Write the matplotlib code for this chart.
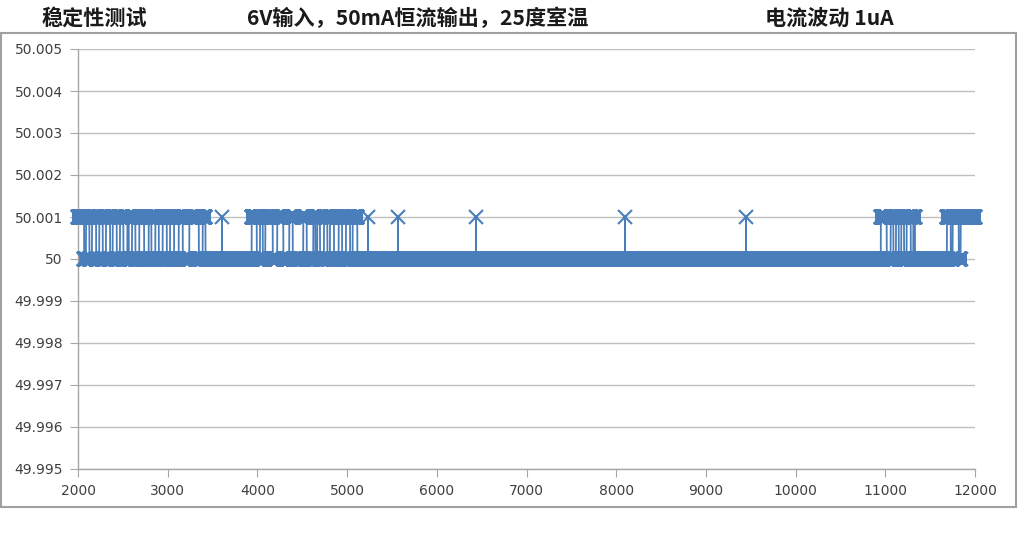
import numpy as np
import matplotlib
matplotlib.use("Agg")
from matplotlib import pyplot as plt
from matplotlib.patches import Rectangle

plt.rcParams['font.family'] = ['Noto Sans CJK SC', 'DejaVu Sans']

# readings: sample index 2000..12000, current in mA
x_start = 2000
x_end = 12000
base_value = 50.0
high_value = 50.001

# runs where the reading sits at 50.001
high_runs = [
    (2000, 2067), (2089, 2126), (2156, 2201), (2237, 2275), (2312, 2357),
    (2387, 2431), (2468, 2505), (2550, 2565), (2602, 2639), (2683, 2736),
    (2788, 2817), (2862, 2900), (2944, 2989), (3026, 3070), (3123, 3167),
    (3241, 3346), (3390, 3420),
    (3936, 3992), (4029, 4059), (4088, 4170), (4221, 4288), (4355, 4393),
    (4511, 4549), (4623, 4645), (4667, 4697), (4742, 4779), (4809, 4853),
    (4906, 4943), (4987, 5032), (5062, 5113),
    (10950, 11015), (11060, 11089), (11119, 11149), (11178, 11208),
    (11238, 11283), (11312, 11330),
    (11687, 11729), (11751, 11818), (11840, 12000),
]
# single-sample spikes
spikes = [3605, 5233, 5567, 6437, 8098, 9447]

titles = ["稳定性测试", "6V输入，50mA恒流输出，25度室温", "电流波动 1uA"]
title_x = [42, 247, 765]

y_ticks = [49.995, 49.996, 49.997, 49.998, 49.999, 50.0,
           50.001, 50.002, 50.003, 50.004, 50.005]
y_labels = ["49.995", "49.996", "49.997", "49.998", "49.999", "50",
            "50.001", "50.002", "50.003", "50.004", "50.005"]
x_ticks = list(range(2000, 12001, 1000))

samples = np.arange(x_start, x_end + 1)
current = np.full(samples.shape, base_value)
for a, b in high_runs:
    current[(samples >= a) & (samples <= b)] = high_value
is_spike = np.isin(samples, spikes)
current[is_spike] = high_value

W, H = 1024, 539
fig = plt.figure(figsize=(W / 100, H / 100), dpi=100)
ax = fig.add_axes([78 / W, 70 / H, 897 / W, 420 / H])

blue = '#4a7ebb'
# crowded markers merge into solid bands in the original
ax.plot(samples[~is_spike], current[~is_spike], ls='none', marker='s',
        ms=8.6, mew=0, color=blue, clip_on=False, zorder=2)
ax.plot(samples, current, color=blue, lw=1.3, marker='x', ms=10, mew=1.5,
        clip_on=False, zorder=3)

ax.set_xlim(x_start, x_end)
ax.set_ylim(49.995, 50.005)
ax.set_yticks(y_ticks)
ax.set_yticklabels(y_labels)
ax.set_xticks(x_ticks)
ax.set_xticklabels([str(t) for t in x_ticks])

ax.grid(axis='y', color='#bfbfbf', lw=1.0)
ax.set_axisbelow(True)
for side in ('top', 'right'):
    ax.spines[side].set_visible(False)
for side in ('left', 'bottom'):
    ax.spines[side].set_color('#a6a6a6')
    ax.spines[side].set_linewidth(1.0)
ax.tick_params(axis='both', colors='#a6a6a6', labelcolor='#404040',
               labelsize=10, length=6, direction='out')
ax.tick_params(axis='x', pad=5)
ax.tick_params(axis='y', pad=5)
for lbl in ax.get_xticklabels() + ax.get_yticklabels():
    lbl.set_family(['DejaVu Sans'])

# outer chart frame
fig.patches.append(Rectangle((1 / W, 32 / H), 1015 / W, 474 / H,
                             transform=fig.transFigure, fill=False,
                             edgecolor='#a0a0a0', lw=1.5))

for t, tx in zip(titles, title_x):
    fig.text(tx / W, 1 - 18 / H, t, fontsize=15.2, fontweight='bold',
             color='#1a1a1a', ha='left', va='center')

fig.savefig('out.png', dpi=100)
